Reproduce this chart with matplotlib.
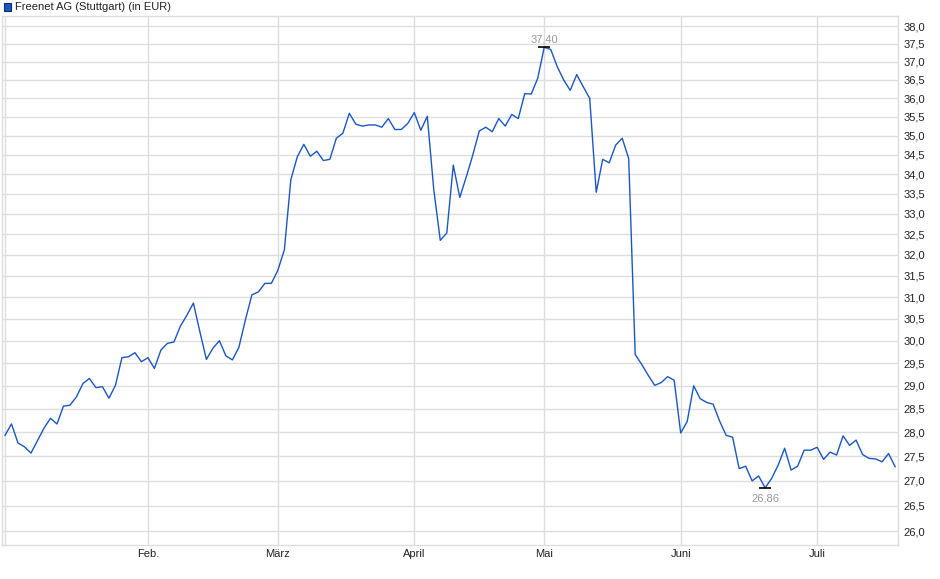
import matplotlib.pyplot as plt
import matplotlib.patches as mpatches
import numpy as np
import pandas as pd

plt.rcParams['font.family'] = ['Liberation Sans', 'DejaVu Sans']

# trading days Jan 2 .. Jul 17 (Stuttgart), closing prices in EUR
holidays = ['2025-04-18', '2025-04-21', '2025-05-01']
dates = pd.bdate_range('2025-01-02', '2025-07-17', freq='C', holidays=holidays)

prices = [
    27.94, 28.18, 27.78, 27.70, 27.57, 27.83, 28.09, 28.30, 28.18, 28.56,
    28.58, 28.76, 29.05, 29.16, 28.96, 28.98, 28.73, 29.01, 29.62, 29.64,
    29.73, 29.53, 29.62, 29.38, 29.79, 29.94, 29.97, 30.33, 30.58, 30.86,
    30.20, 29.58, 29.83, 30.00, 29.66, 29.57, 29.85, 30.47, 31.05, 31.12,
    31.32, 31.32, 31.63, 32.12, 33.86, 34.45, 34.77, 34.46, 34.59, 34.35,
    34.38, 34.93, 35.06, 35.59, 35.30, 35.25, 35.28, 35.28, 35.22, 35.45,
    35.16, 35.16, 35.32, 35.61, 35.14, 35.51, 33.60, 32.35, 32.53, 34.23,
    33.41, 33.93, 34.49, 35.12, 35.22, 35.10, 35.45, 35.25, 35.56, 35.45,
    36.12, 36.11, 36.54, 37.40, 37.34, 36.86, 36.49, 36.21, 36.64, 36.31,
    35.99, 33.54, 34.38, 34.29, 34.75, 34.93, 34.40, 29.69, 29.47, 29.23,
    29.01, 29.07, 29.20, 29.12, 27.99, 28.23, 29.00, 28.72, 28.64, 28.60,
    28.24, 27.94, 27.90, 27.25, 27.30, 27.00, 27.10, 26.86, 27.05, 27.32,
    27.67, 27.22, 27.30, 27.63, 27.63, 27.69, 27.44, 27.59, 27.53, 27.93,
    27.73, 27.84, 27.54, 27.46, 27.45, 27.39, 27.56, 27.29,
]

month_names = ['', 'Feb.', 'März', 'April', 'Mai', 'Juni', 'Juli']
y_ticks = np.arange(26.0, 38.01, 0.5)

x = np.arange(len(prices))
# first trading day of each month
month_start = [i for i in range(len(dates)) if i == 0 or dates[i].month != dates[i - 1].month]

fig = plt.figure(figsize=(9.4, 5.79), dpi=100)
ax = fig.add_axes([2 / 940, 34 / 579, 896 / 940, 529 / 579])

grid_c = '#dddddd'
ax.set_yscale('log')
ax.set_ylim(25.73, 38.29)
ax.set_xlim(-0.46, 137.45)

for yv in y_ticks:
    ax.axhline(yv, color=grid_c, lw=1, zorder=0)
for xi in month_start:
    ax.axvline(xi, color=grid_c, lw=1, zorder=0)

ax.plot(x, prices, color='#1a57c4', lw=1.0, zorder=3)

# high / low markers
hi = int(np.argmax(prices))
lo = int(np.argmin(prices))
ax.plot([hi], [prices[hi]], marker='_', color='black', ms=9, mew=1.2, zorder=4)
ax.plot([lo], [prices[lo]], marker='_', color='black', ms=9, mew=1.2, zorder=4)
ax.annotate(f"{prices[hi]:.2f}".replace('.', ','), (hi, prices[hi]), xytext=(0, 2),
            textcoords='offset points', ha='center', va='bottom', color='#999999', fontsize=8)
ax.annotate(f"{prices[lo]:.2f}".replace('.', ','), (lo, prices[lo]), xytext=(0, -4),
            textcoords='offset points', ha='center', va='top', color='#999999', fontsize=8)

ax.yaxis.tick_right()
ax.set_yticks(y_ticks)
ax.set_yticklabels([f"{v:.1f}".replace('.', ',') for v in y_ticks])
ax.yaxis.set_minor_locator(plt.NullLocator())
ax.set_xticks(month_start)
ax.set_xticklabels(month_names)
ax.tick_params(axis='y', length=0, pad=4, labelsize=8, labelcolor='#222222')
ax.tick_params(axis='x', length=0, pad=3, labelsize=8, labelcolor='#222222')

for s in ax.spines.values():
    s.set_color(grid_c)
    s.set_linewidth(1)

# legend-like title
fig.patches.append(mpatches.Rectangle((4 / 940, 1 - 10.5 / 579), 7 / 940, 7 / 579,
                                      transform=fig.transFigure, facecolor='#1a57c4',
                                      edgecolor='#0a2a70', lw=0.8))
fig.text(15 / 940, 1 - 7 / 579, 'Freenet AG (Stuttgart) (in EUR)', fontsize=8,
         color='#222222', va='center', ha='left')

plt.savefig('out.png', dpi=100)
